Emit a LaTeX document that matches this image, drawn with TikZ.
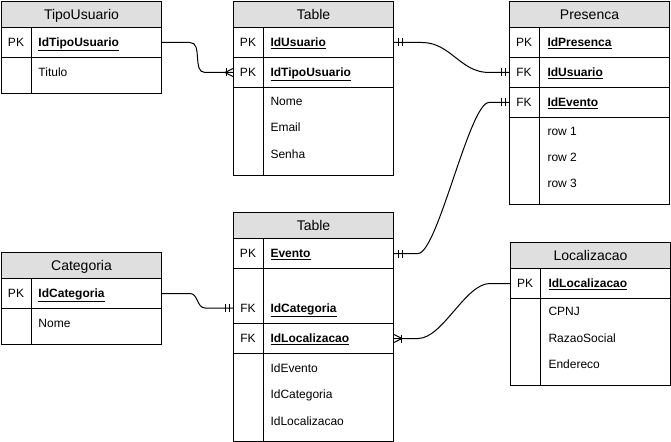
\documentclass[tikz,border=0pt]{standalone}
\usepackage{fontspec}
\setmainfont{Liberation Sans}
\usetikzlibrary{decorations.markings}

\begin{document}
\begin{tikzpicture}[x=0.75pt,y=-0.75pt,line width=0.75pt,
   hdr/.style={rectangle,draw,fill=gray!25,anchor=north west,minimum width=120pt,
    inner sep=0pt,text height=7.5pt,text depth=0pt,font=\fontsize{10.5}{12}\selectfont},
   row/.style={rectangle,draw,anchor=north west,minimum width=120pt,inner sep=0pt},
   key/.style={inner sep=0pt,text height=6.5pt,text depth=0pt,font=\fontsize{9}{11}\selectfont},
   fld/.style={key,anchor=west},
   bars start/.style={postaction={decorate,decoration={markings,
    mark=at position 3pt with {\draw (0,-3pt) -- (0,3pt);},
    mark=at position 6pt with {\draw (0,-3pt) -- (0,3pt);}}}},
   bars end/.style={postaction={decorate,decoration={markings,
    mark=at position -3pt with {\draw (0,-3pt) -- (0,3pt);},
    mark=at position -6pt with {\draw (0,-3pt) -- (0,3pt);}}}},
   many end/.style={postaction={decorate,decoration={markings,
    mark=at position -6pt with {\draw (0,0) -- (6pt,3pt) (0,0) -- (6pt,-3pt);},
    mark=at position -5.25pt with {\draw (0,-3pt) -- (0,3pt);}}}}
    ]

  \useasboundingbox (0,0) rectangle (671,442);

  % -- TipoUsuario
  \node[hdr,minimum height=19.5pt] (tu) at (1,1) {TipoUsuario};
  \node[row,minimum height=22.5pt] (tu-r1) at (1,27) {};
  \node[row,minimum height=27pt] (tu-r2) at (1,57) {};
  \draw ([xshift=22.5pt]tu-r1.north west) -- ([xshift=22.5pt]tu-r2.south west);
  \node[key] (tu-k1) at (16,42) {PK};
  \node[fld] (tu-f1) at (38,42) {\underline{\textbf{IdTipoUsuario}}};
  \node[fld] (tu-f2) at (38,72) {Titulo};

  % -- Usuario
  \node[hdr,minimum height=19.5pt] (us) at (233,1) {Table};
  \node[row,minimum height=22.5pt] (us-r1) at (233,27) {};
  \node[row,minimum height=22.5pt] (us-r2) at (233,57) {};
  \node[row,minimum height=66pt] (us-r3) at (233,87) {};
  \draw ([xshift=22.5pt]us-r1.north west) -- ([xshift=22.5pt]us-r3.south west);
  \node[key] (us-k1) at (248,42) {PK};
  \node[fld] (us-f1) at (270,42) {\underline{\textbf{IdUsuario}}};
  \node[key] (us-k2) at (248,72) {PK};
  \node[fld] (us-f2) at (270,72) {\underline{\textbf{IdTipoUsuario}}};
  \node[fld] (us-f3) at (270,101) {Nome};
  \node[fld] (us-f4) at (270,127) {Email};
  \node[fld] (us-f5) at (270,154) {Senha};

  % -- Presenca
  \node[hdr,minimum height=19.5pt] (pr) at (509,1) {Presenca};
  \node[row,minimum height=22.5pt] (pr-r1) at (509,27) {};
  \node[row,minimum height=22.5pt] (pr-r2) at (509,57) {};
  \node[row,minimum height=22.5pt] (pr-r3) at (509,87) {};
  \node[row,minimum height=65.25pt] (pr-r4) at (509,117) {};
  \draw ([xshift=22.5pt]pr-r1.north west) -- ([xshift=22.5pt]pr-r4.south west);
  \node[key] (pr-k1) at (524,42) {PK};
  \node[fld] (pr-f1) at (547,42) {\underline{\textbf{IdPresenca}}};
  \node[key] (pr-k2) at (524,72) {FK};
  \node[fld] (pr-f2) at (547,72) {\underline{\textbf{IdUsuario}}};
  \node[key] (pr-k3) at (524,102) {FK};
  \node[fld] (pr-f3) at (547,102) {\underline{\textbf{IdEvento}}};
  \node[fld] (pr-f4) at (547,131) {row 1};
  \node[fld] (pr-f5) at (547,157) {row 2};
  \node[fld] (pr-f6) at (547,183) {row 3};

  % -- Categoria
  \node[hdr,minimum height=19.5pt] (ca) at (1,252) {Categoria};
  \node[row,minimum height=22.5pt] (ca-r1) at (1,278) {};
  \node[row,minimum height=27pt] (ca-r2) at (1,308) {};
  \draw ([xshift=22.5pt]ca-r1.north west) -- ([xshift=22.5pt]ca-r2.south west);
  \node[key] (ca-k1) at (16,293) {PK};
  \node[fld] (ca-f1) at (38,293) {\underline{\textbf{IdCategoria}}};
  \node[fld] (ca-f2) at (38,323) {Nome};

  % -- Evento
  \node[hdr,minimum height=19.5pt] (ev) at (233,212) {Table};
  \node[row,minimum height=22.5pt] (ev-r1) at (233,238) {};
  \node[row,minimum height=41.25pt] (ev-r2) at (233,268) {};
  \node[row,minimum height=22.5pt] (ev-r3) at (233,323) {};
  \node[row,minimum height=66pt] (ev-r4) at (233,353) {};
  \draw ([xshift=22.5pt]ev-r1.north west) -- ([xshift=22.5pt]ev-r4.south west);
  \node[key] (ev-k1) at (248,253) {PK};
  \node[fld] (ev-f1) at (270,253) {\underline{\textbf{Evento}}};
  \node[key] (ev-k2) at (248,308) {FK};
  \node[fld] (ev-f2) at (270,308) {\underline{\textbf{IdCategoria}}};
  \node[key] (ev-k3) at (248,338) {FK};
  \node[fld] (ev-f3) at (270,338) {\underline{\textbf{IdLocalizacao}}};
  \node[fld] (ev-f4) at (270,368) {IdEvento};
  \node[fld] (ev-f5) at (270,394) {IdCategoria};
  \node[fld] (ev-f6) at (270,421) {IdLocalizacao};

  % -- Localizacao
  \node[hdr,minimum height=19.5pt] (lo) at (510,242) {Localizacao};
  \node[row,minimum height=22.5pt] (lo-r1) at (510,268) {};
  \node[row,minimum height=65.25pt] (lo-r2) at (510,298) {};
  \draw ([xshift=22.5pt]lo-r1.north west) -- ([xshift=22.5pt]lo-r2.south west);
  \node[key] (lo-k1) at (525,283) {PK};
  \node[fld] (lo-f1) at (548,283) {\underline{\textbf{IdLocalizacao}}};
  \node[fld] (lo-f2) at (548,311) {CPNJ};
  \node[fld] (lo-f3) at (548,338) {RazaoSocial};
  \node[fld] (lo-f4) at (548,364) {Endereco};

  % -- relations
  \draw[many end] (tu-r1.east) -- ++(28,0) to[out=0,in=180]
    ([xshift=-21pt]us-r2.west) -- (us-r2.west);
  \draw[bars start,bars end] (us-r1.east) -- ++(28,0) to[out=0,in=180]
    ([xshift=-15pt]pr-r2.west) -- (pr-r2.west);
  \draw[bars start,bars end] (ev-r1.east) -- ++(24,0) to[out=0,in=180,looseness=0.3]
    ([xshift=-15pt]pr-r3.west) -- (pr-r3.west);
  \draw[bars start] (ev-r2.west |- ev-f2) -- ++(-28,0) to[out=180,in=0]
    ([xshift=21pt]ca-r1.east) -- (ca-r1.east);
  \draw[many end] (lo-r1.west) -- ++(-20,0) to[out=180,in=0,looseness=0.7]
    ([xshift=18pt]ev-r3.east) -- (ev-r3.east);

\end{tikzpicture}
\end{document}
